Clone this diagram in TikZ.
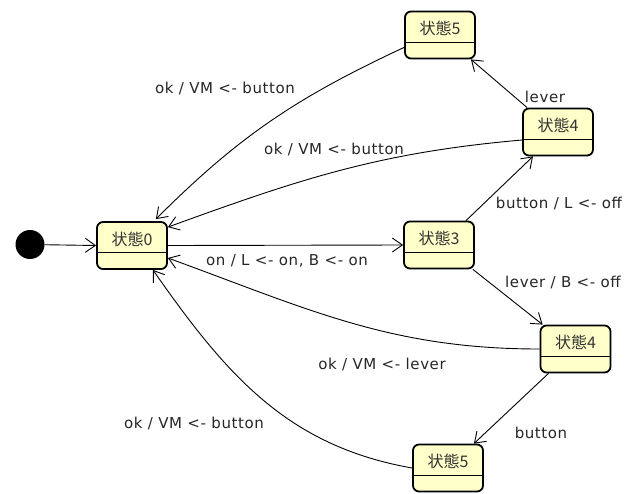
\documentclass[tikz,border=0pt]{standalone}
\usepackage{fontspec}
\usetikzlibrary{arrows.meta}
\newfontfamily\jpfont{Noto Sans CJK JP}
\newfontfamily\lblfont{DejaVu Sans}[LetterSpace=4]
\definecolor{stfill}{RGB}{255,255,202}
\definecolor{sttext}{RGB}{51,51,51}

\begin{document}
\begin{tikzpicture}[x=1pt,y=-1pt,
  state/.style={draw, line width=1.8pt, rounded corners=6pt, fill=stfill,
    minimum width=70pt, minimum height=47pt, inner ysep=0pt,
    text height=23pt, text depth=24pt, text=sttext,
    font=\jpfont\fontsize{16}{16}\selectfont,
    path picture={\draw[line width=1pt]
      ([yshift=16.5pt]path picture bounding box.south west) --
      ([yshift=16.5pt]path picture bounding box.south east);}},
  trans/.style={-{Straight Barb[length=10pt,width=14pt]}, line width=0.9pt},
  lbl/.style={font=\lblfont\fontsize{15}{15}\selectfont, text=black!85}]
\fill[white] (0,0) rectangle (637,493);
\useasboundingbox (0,0) rectangle (637,493);

\node[circle, fill=black, minimum size=29pt, inner sep=0pt] (init) at (30,244.5) {};
\node[state] (s0) at (132,245.5) {状態0};
\node[state] (s3) at (439,245) {状態3};
\node[state] (s4a) at (558,132) {状態4};
\node[state] (s5a) at (440,35) {状態5};
\node[state] (s4b) at (575.5,349) {状態4};
\node[state] (s5b) at (448,468) {状態5};

\draw[trans] (init) -- (s0.west);
\draw[trans] (s0.east) -- (s3.west);
\draw[trans] ([xshift=27pt]s3.north) -- ([xshift=-25pt]s4a.south);
\draw[trans] ([xshift=5pt]s4a.north west) -- ([xshift=-5pt]s5a.south east);
\draw[trans] ([yshift=12pt]s5a.south west) to[out=205,in=45] ([xshift=-12pt,yshift=2pt]s0.north east);
\draw[trans] ([yshift=-8pt]s4a.west) to[out=185,in=20] ([yshift=-6pt]s0.north east);
\draw[trans] ([xshift=-2pt]s3.south east) -- ([xshift=3pt]s4b.north west);
\draw[trans] (s4b.west) to[out=180,in=-20] ([yshift=-12.5pt]s0.east);
\draw[trans] ([xshift=-27pt]s4b.south) -- ([xshift=-10pt]s5b.north east);
\draw[trans] (s5b.west) to[out=170,in=-55] ([xshift=-15pt]s0.south east);

\node[lbl] (l1) at (545,97) {lever};
\node[lbl] (l2) at (559,203) {button / L <- off};
\node[lbl] (l3) at (225,88) {ok / VM <- button};
\node[lbl] (l4) at (334,149) {ok / VM <- button};
\node[lbl] (l5) at (287,261) {on / L <- on, B <- on};
\node[lbl] (l6) at (563,282) {lever / B <- off};
\node[lbl] (l7) at (382,364) {ok / VM <- lever};
\node[lbl] (l8) at (541,433) {button};
\node[lbl] (l9) at (194,423) {ok / VM <- button};
\end{tikzpicture}
\end{document}
